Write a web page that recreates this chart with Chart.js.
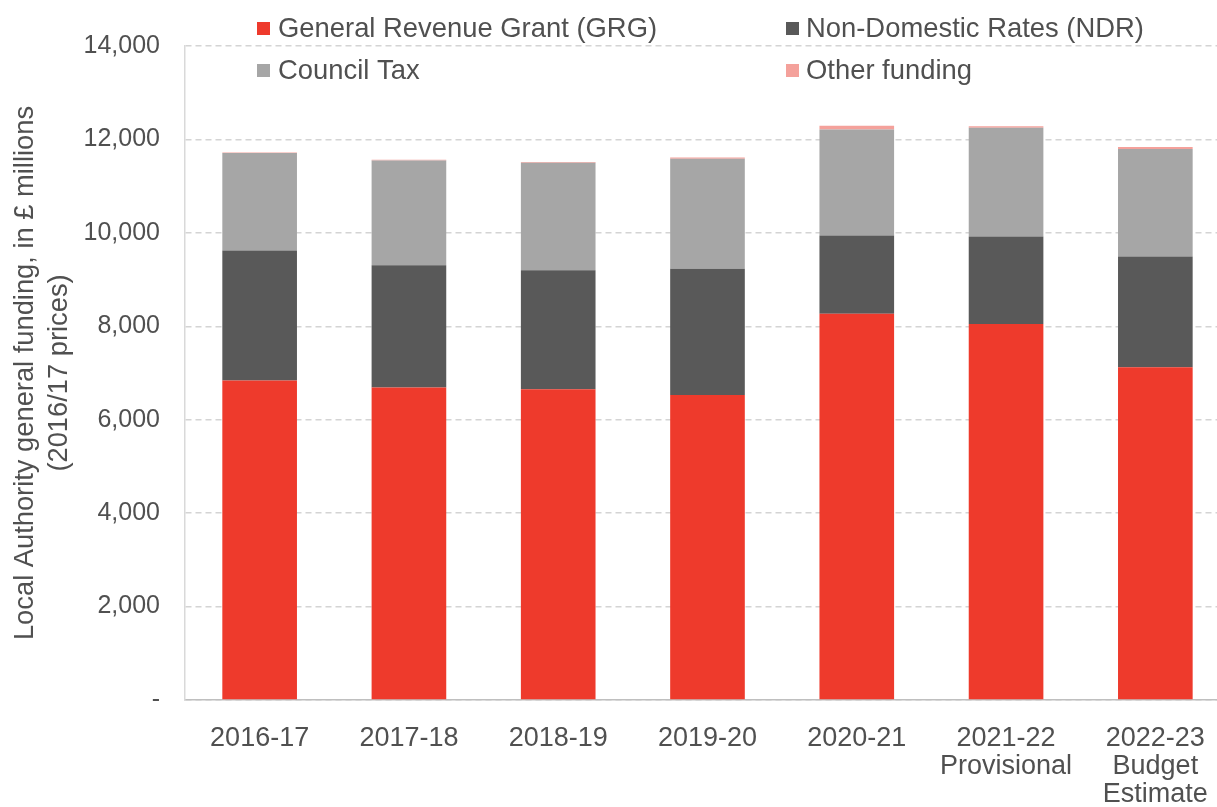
<!DOCTYPE html>
<html>
<head>
<meta charset="utf-8">
<script src="https://cdn.jsdelivr.net/npm/chart.js@4"></script>
<style>
  html, body { margin: 0; padding: 0; background: #fff; overflow: hidden; }
  #wrap { width: 1232px; height: 807px; position: relative; }
</style>
</head>
<body>
<div id="wrap"><canvas id="c"></canvas></div>
<script>
const categories = [
  "2016-17", "2017-18", "2018-19", "2019-20", "2020-21",
  ["2021-22", "Provisional"], ["2022-23", "Budget", "Estimate"]
];
const grg   = [6837, 6687, 6652, 6531, 8266, 8051, 7124];
const ndr   = [2783, 2621, 2549, 2698, 1676, 1870, 2369];
const ctax  = [2087, 2242, 2299, 2358, 2272, 2329, 2300];
const other = [15, 15, 15, 28, 79, 30, 43];
const seriesNames = ["General Revenue Grant (GRG)", "Non-Domestic Rates (NDR)", "Council Tax", "Other funding"];
const yTicks = [0, 2000, 4000, 6000, 8000, 10000, 12000, 14000];
const yTitle = ["Local Authority general funding, in £ millions", "(2016/17 prices)"];

const colors = ["#EE3A2C", "#595959", "#A6A6A6", "#F4A19B"];
const FONT = "'Liberation Sans', Arial, sans-serif";
const TEXT = "#505050";

const legendPlugin = {
  id: 'customLegend',
  afterDraw(chart) {
    const ctx = chart.ctx;
    const slots = [
      {sx: 257, tx: 278, y: 28},
      {sx: 786, tx: 806, y: 28},
      {sx: 257, tx: 278, y: 70},
      {sx: 786, tx: 806, y: 70}
    ];
    ctx.save();
    ctx.font = "27.4px " + FONT;
    ctx.textBaseline = "middle";
    ctx.textAlign = "left";
    chart.data.datasets.forEach((ds, i) => {
      const s = slots[i];
      ctx.fillStyle = ds.backgroundColor;
      ctx.fillRect(s.sx, s.y - 6, 13, 13);
      ctx.fillStyle = TEXT;
      ctx.fillText(ds.label, s.tx, s.y + 1);
    });
    ctx.restore();
  }
};

new Chart(document.getElementById('c'), {
  type: 'bar',
  data: {
    labels: categories,
    datasets: [
      { label: seriesNames[0], data: grg,   backgroundColor: colors[0] },
      { label: seriesNames[1], data: ndr,   backgroundColor: colors[1] },
      { label: seriesNames[2], data: ctax,  backgroundColor: colors[2] },
      { label: seriesNames[3], data: other, backgroundColor: colors[3] }
    ]
  },
  options: {
    responsive: true,
    maintainAspectRatio: false,
    animation: false,
    layout: { padding: { top: 46, right: 2, left: 0, bottom: 0 } },
    datasets: { bar: { categoryPercentage: 1, barPercentage: 0.5, borderWidth: 0 } },
    plugins: { legend: { display: false }, tooltip: { enabled: false } },
    scales: {
      x: {
        stacked: true,
        grid: { display: false, drawTicks: false },
        border: { display: true, color: "#bfbfbf", width: 1.5 },
        ticks: {
          color: TEXT, padding: 24, maxRotation: 0, autoSkip: false,
          font: { family: FONT, size: 27, lineHeight: 1.05 }
        },
        afterFit(scale) { scale.height = 107; }
      },
      y: {
        stacked: true,
        min: 0, max: 14000,
        afterBuildTicks(scale) { scale.ticks = yTicks.map(v => ({ value: v })); },
        grid: { color: "#d4d4d4", lineWidth: 1.5, drawTicks: false },
        border: { display: true, color: "#d9d9d9", width: 1.5, dash: [6, 4] },
        ticks: {
          color: TEXT, padding: 25,
          font: { family: FONT, size: 25 },
          callback: v => v === 0 ? "-" : v.toLocaleString("en-GB")
        },
        title: {
          display: true, text: yTitle, color: TEXT,
          font: { family: FONT, size: 27.3, lineHeight: 1.25 },
          padding: { top: 8, bottom: 0 }
        },
        afterFit(scale) { scale.width = 185; }
      }
    }
  },
  plugins: [legendPlugin]
});
</script>
</body>
</html>
